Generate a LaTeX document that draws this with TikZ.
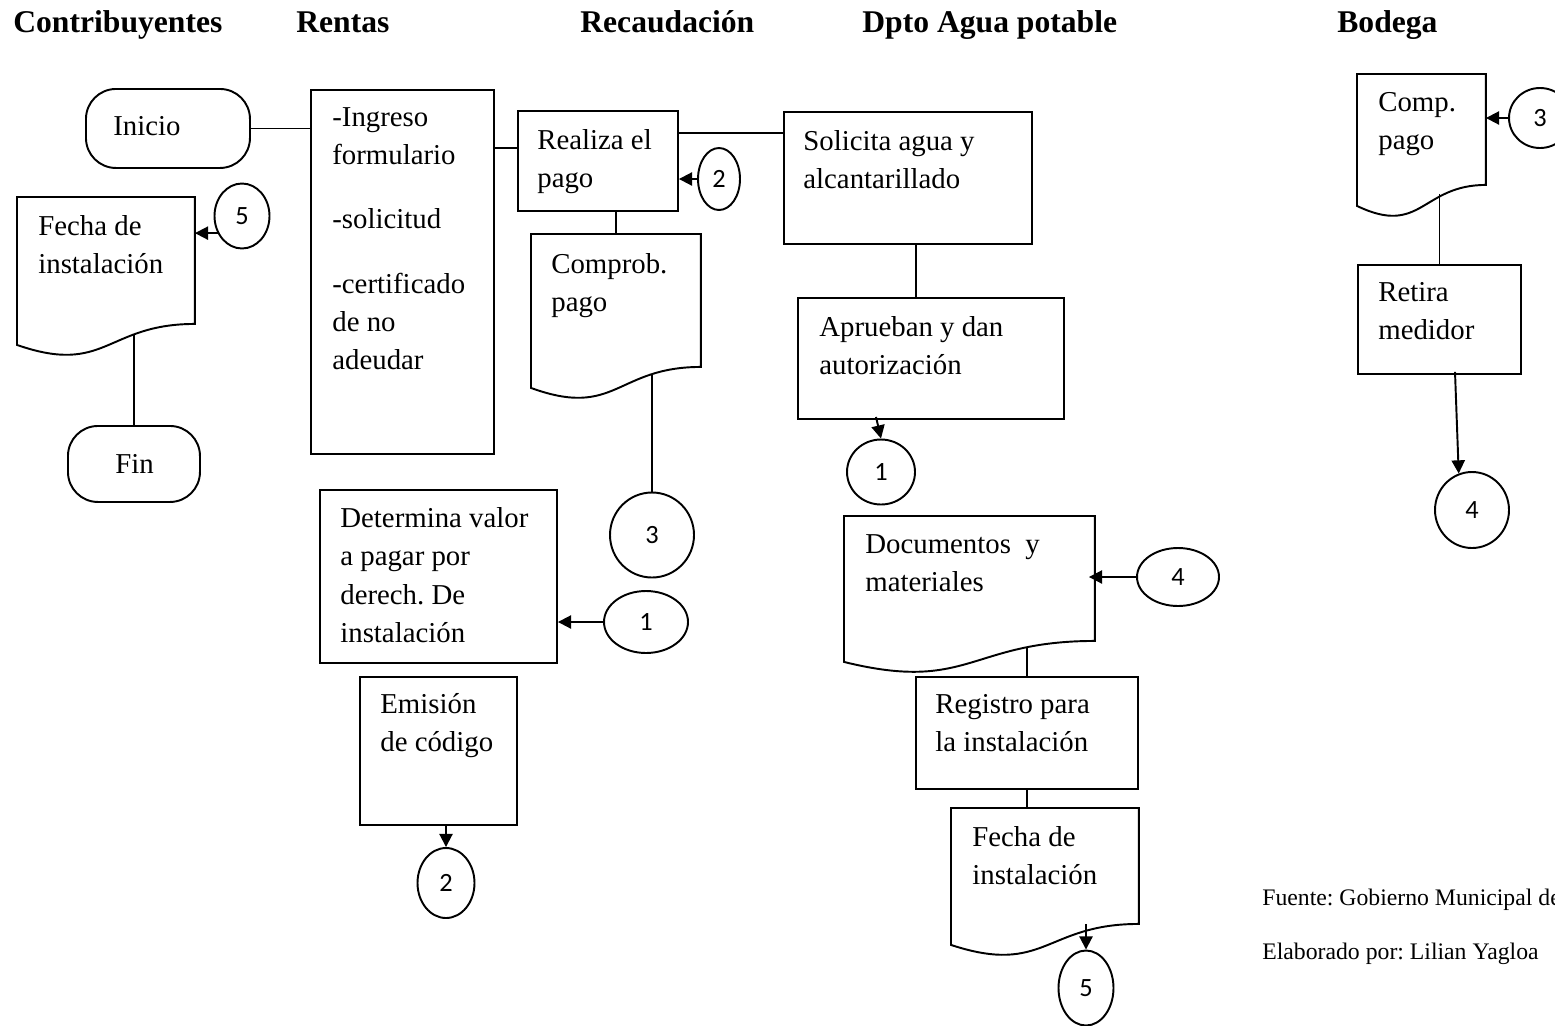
\documentclass[tikz,border=0pt]{standalone}
\usepackage{fontspec}
\setmainfont{Liberation Serif}
\newfontfamily\cfont{Carlito}
\usetikzlibrary{arrows.meta,positioning,calc,shapes.geometric}
\frenchspacing

\begin{document}
\begin{tikzpicture}[x=0.02cm,y=-0.02cm,
  ln/.style={line width=1.1pt},
  ar/.style={line width=1.1pt,-{Triangle[length=7.5pt,width=7.5pt]}},
  hd/.style={anchor=base west,inner sep=0pt,font=\fontsize{18}{22}\selectfont\bfseries},
  tx/.style={anchor=north west,yshift=11.3pt,inner sep=0pt,align=left,
    font=\fontsize{16.4}{21.8}\selectfont,execute at begin node=\strut},
  ft/.style={anchor=base west,inner sep=0pt,font=\fontsize{13.5}{16}\selectfont},
  bx/.style 2 args={draw,line width=1.1pt,anchor=north west,inner sep=0pt,minimum width=#1*0.02cm,minimum height=#2*0.02cm},
  dc/.style 2 args={bx={#1}{#2},draw=none},
  tm/.style 2 args={bx={#1}{#2},rounded corners=0.6cm},
  cn/.style 2 args={draw,ellipse,line width=1.1pt,inner sep=0pt,minimum width=#1*0.02cm,minimum height=#2*0.02cm,font=\cfont\fontsize{15}{16}\selectfont}]
 \useasboundingbox (0,0) rectangle (1555,1025);
 \clip (0,0) rectangle (1555,1025);
 % cabeceras
 \node[hd] (h1) at (13,32) {Contribuyentes};
 \node[hd] (h2) at (296,32) {Rentas};
 \node[hd] (h3) at (580,32) {Recaudación};
 \node[hd] (h4) at (862,32) {Dpto Agua potable};
 \node[hd] (h5) at (1337,32) {Bodega};
 % contribuyentes
 \node[tm={164}{79}] (ini) at (85,88) {};
 \node[tx] (ini-t) at (113,128) {Inicio};
 \node[dc={176}{125}] (fec1) at (17,197) {};
 \node[tx] (fec1-t) at (38,235) {Fecha de\\instalación};
 \node[tm={132}{76}] (fin) at (67,425) {};
 \node[tx] (fin-t) at (115,466) {Fin};
 \node[cn={55}{65}] (c5a) at (242,216) {5};
 % rentas
 \node[bx={183}{364}] (ren) at (310,89) {};
 \node[tx] (ren-t) at (332,127) {-Ingreso\\formulario\\[14.8pt]-solicitud\\[14.8pt]-certificado\\de no\\adeudar};
 \node[bx={237}{173}] (det) at (319,489) {};
 \node[tx] (det-t) at (340,527) {Determina valor\\a pagar por\\derech. De\\instalación};
 \node[bx={157}{148}] (emi) at (359,676) {};
 \node[tx] (emi-t) at (380,713) {Emisión\\de código};
 \node[cn={57}{70}] (c2b) at (446,883) {2};
 % recaudacion
 \node[bx={160}{100}] (rea) at (517,110) {};
 \node[tx] (rea-t) at (537,149) {Realiza el\\pago};
 \node[cn={42}{62}] (c2a) at (719,179) {2};
 \node[dc={168}{131}] (cpb) at (531,234) {};
 \node[tx] (cpb-t) at (551,273) {Comprob.\\pago};
 \node[cn={84}{85}] (c3a) at (652,535) {3};
 \node[cn={84}{62}] (c1a) at (646,622) {1};
 % dpto agua potable
 \node[bx={248}{132}] (sol) at (783,111) {};
 \node[tx] (sol-t) at (803,150) {Solicita agua y\\alcantarillado};
 \node[bx={266}{121}] (apr) at (797,297) {};
 \node[tx] (apr-t) at (819,336) {Aprueban y dan\\autorización};
 \node[cn={68}{65}] (c1b) at (881,472) {1};
 \node[dc={249}{123}] (doc) at (844,516) {};
 \node[tx] (doc-t) at (865,554) {Documentos\ \ y\\materiales};
 \node[cn={82}{58}] (c4a) at (1178,577) {4};
 \node[bx={222}{112}] (reg) at (915,676) {};
 \node[tx] (reg-t) at (935,714) {Registro para\\la instalación};
 \node[dc={186}{114}] (fec2) at (951,808) {};
 \node[tx] (fec2-t) at (972,846) {Fecha de\\instalación};
 \node[cn={55}{75}] (c5b) at (1086,988) {5};
 % bodega
 \node[dc={127}{109}] (cpg) at (1357,74) {};
 \node[tx] (cpg-t) at (1378,112) {Comp.\\pago};
 \node[cn={62}{60}] (c3b) at (1540,118) {3};
 \node[bx={163}{109}] (ret) at (1357,264) {};
 \node[tx] (ret-t) at (1378,302) {Retira\\medidor};
 \node[cn={74}{76}] (c4b) at (1472,510) {4};
 % fuente
 \node[ft] (f1) at (1262,905) {Fuente: Gobierno Municipal de};
 \node[ft] (f2) at (1262,959) {Elaborado por: Lilian Yagloa};
 % documentos con borde ondulado
 \foreach \d in {fec1,cpb,doc,fec2,cpg}
   \draw[ln] (\d.north west) -- (\d.north east) -- (\d.south east)
     .. controls (\d.south) and ([yshift=-1.04cm]\d.south) .. ([yshift=-0.42cm]\d.south west) -- cycle;
 % conectores
 \coordinate (y1) at (0,148);
 \coordinate (y2) at (0,133);
 \coordinate (s1) at ($(sol.south)+(8,0)$);
 \draw[ln] (ini.east) -- (ini.east -| ren.west);
 \draw[ln] (ren.east |- y1) -- (rea.west |- y1);
 \draw[ln] (rea.east |- y2) -- (sol.west |- y2);
 \draw[ar] (c2a.west) -- (c2a.west -| rea.east);
 \draw[ln] (rea.south -| cpb.north) -- (cpb.north);
 \draw[ln] ($(c3a.north |- cpb.south)+(0,8)$) -- (c3a.north);
 \draw[ar] (c1a.west) -- (c1a.west -| det.east);
 \draw[ar] (emi.south -| c2b.north) -- (c2b.north);
 \draw[ar] (c5a.215) -- (c5a.215 -| fec1.east);
 \draw[ln] ($(fin.north |- fec1.south)+(0,10)$) -- (fin.north);
 \draw[ln] (s1) -- (s1 |- apr.north);
 \draw[ar] ($(apr.south west)+(79,-3)$) -- (c1b.north);
 \draw[ar] (c4a.west) -- ($(c4a.west -| doc.east)+(-6,0)$);
 \draw[ln] ($(reg.north |- doc.south)+(0,7)$) -- (reg.north);
 \draw[ln] (reg.south) -- (reg.south |- fec2.north);
 \draw[ar] (c5b.north |- fec2.south) -- (c5b.north);
 \draw[ar] (c3b.west) -- (c3b.west -| cpg.east);
 \draw[ln] ($(ret.north |- cpg.south)+(0,9)$) -- (ret.north);
 \draw[ar] ($(ret.south west)+(98,-3)$) -- (c4b.110);
\end{tikzpicture}
\end{document}
